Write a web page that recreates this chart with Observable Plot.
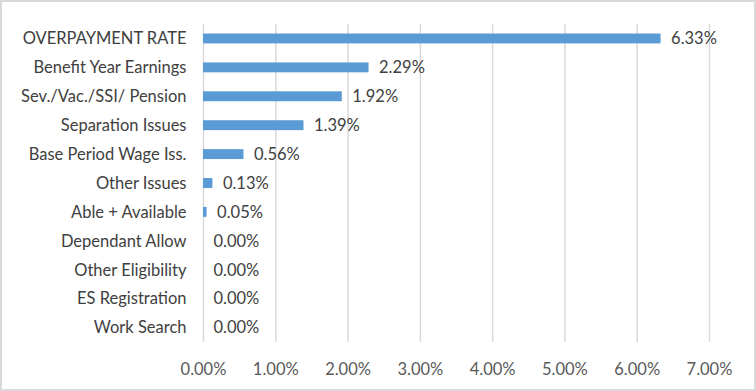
<!DOCTYPE html>
<html>
<head>
<meta charset="utf-8">
<script src="https://cdn.jsdelivr.net/npm/d3@7"></script>
<script src="https://cdn.jsdelivr.net/npm/@observablehq/plot@0.6"></script>
<style>
  html, body { margin: 0; padding: 0; background: #fff; }
  #chart svg { display: block; outline: 2px solid #d9d9d9; outline-offset: -2px; }
</style>
</head>
<body>
<div id="chart"></div>
<script>
const categories = [
  "OVERPAYMENT RATE",
  "Benefit Year Earnings",
  "Sev./Vac./SSI/ Pension",
  "Separation Issues",
  "Base Period Wage Iss.",
  "Other Issues",
  "Able + Available",
  "Dependant Allow",
  "Other Eligibility",
  "ES Registration",
  "Work Search"
];
const values = [0.0633, 0.0229, 0.0192, 0.0139, 0.0056, 0.0013, 0.0005, 0, 0, 0, 0];
const xTicks = [0, 0.01, 0.02, 0.03, 0.04, 0.05, 0.06, 0.07];

const data = categories.map((c, i) => ({category: c, value: values[i]}));
const fmt = d3.format(".2%");
const FONT = "Lato, sans-serif";
const FS = 16.5;

const chart = Plot.plot({
  width: 756,
  height: 391,
  marginLeft: 203,
  marginRight: 47,
  marginTop: 24,
  marginBottom: 49,
  style: {fontFamily: FONT, fontSize: FS + "px", color: "#595959", background: "#fff"},
  x: {domain: [0, 0.07], ticks: xTicks, tickFormat: fmt, label: null},
  y: {domain: categories, padding: 0, round: false, label: null},
  marks: [
    Plot.gridX(xTicks, {stroke: "#d9d9d9", strokeOpacity: 1, strokeWidth: 1.5}),
    Plot.barX(data, {x: "value", y: "category", fill: "#5b9bd5", insetTop: 9.5, insetBottom: 9.5}),
    Plot.text(data, {x: "value", y: "category", text: d => fmt(d.value), textAnchor: "start", dx: 10, fill: "#404040", fontSize: FS}),
    Plot.axisX(xTicks, {tickSize: 0, tickPadding: 21, tickFormat: fmt, fontSize: FS, fill: "#595959"}),
    Plot.axisY({tickSize: 0, tickPadding: 17, fontSize: FS, fill: "#404040"})
  ]
});
document.getElementById("chart").appendChild(chart);
</script>
</body>
</html>
